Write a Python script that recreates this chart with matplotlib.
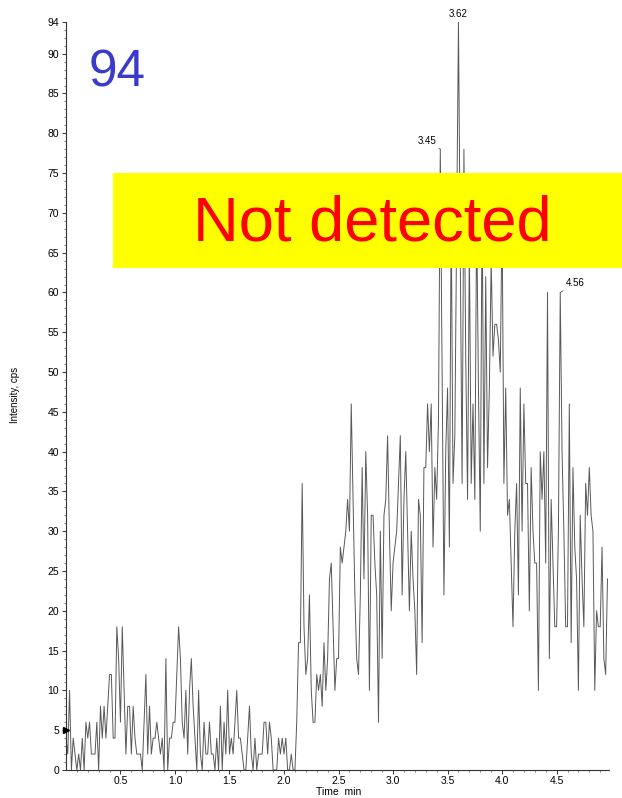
import numpy as np
import matplotlib
matplotlib.use("Agg")
import matplotlib.pyplot as plt
from matplotlib.patches import Rectangle

plt.rcParams['font.family'] = ['Liberation Sans', 'DejaVu Sans']

# sampling step (min) of the chromatogram trace
dt = 1.0 / 60.0

# intensity (cps), 0.5-min blocks
seg0 = [4,2,10,0,4,2,0,2,0,4,0,6,4,6,2,2,2,6,0,8,4,8,4,8,12,12,4,4,18,14]
seg1 = [6,18,10,2,8,8,2,8,4,2,2,2,0,6,12,2,8,2,4,4,6,4,2,4,0,14,0,4,4,6]
seg2 = [6,12,18,14,6,4,10,2,10,14,8,4,0,10,2,0,6,2,2,6,2,2,0,4,0,8,0,6,2,10]
seg3 = [2,4,2,6,10,4,4,2,0,0,4,8,2,0,4,0,2,2,2,6,6,2,6,4,0,0,0,4,2,4]
seg4 = [2,4,0,0,2,0,0,6,16,16,36,18,12,14,22,10,6,6,12,10,12,8,16,10,14,24,26,18,10,14]
seg5 = [14,28,26,28,30,34,30,46,34,22,14,12,22,38,24,40,32,10,32,32,26,22,6,30,14,32,34,42,30,20]
seg6 = [26,28,30,36,42,22,34,40,30,20,30,24,20,12,34,32,16,38,38,46,40,46,28,38,34,44,78,50,22,40]
seg7 = [48,28,70,36,42,68,94,64,36,78,52,34,66,36,46,34,70,48,30,72,36,62,38,48,64,52,56,56,54,50]
seg8 = [70,36,48,32,34,26,18,30,36,22,48,30,46,36,36,20,38,30,26,26,10,40,34,40,26,60,14,34,26,18]
seg9 = [18,30,60,40,30,18,18,46,16,38,28,24,10,32,24,18,36,32,38,32,30,10,20,18,18,28,14,12,24]

intensity = np.array(seg0 + seg1 + seg2 + seg3 + seg4 + seg5 + seg6 + seg7 + seg8 + seg9, dtype=float)
time = np.arange(len(intensity)) * dt

x_ticks = [0.5, 1.0, 1.5, 2.0, 2.5, 3.0, 3.5, 4.0, 4.5]
x_tick_labels = ["0.5", "1.0", "1.5", "2.0", "2.5", "3.0", "3.5", "4.0", "4.5"]
y_ticks = [0, 5, 10, 15, 20, 25, 30, 35, 40, 45, 50, 55, 60, 65, 70, 75, 80, 85, 90, 94]

peak_labels = ["3.45", "3.62", "4.56"]
peak_times = [3.433, 3.600, 4.533]

fig = plt.figure(figsize=(6.22, 7.98), dpi=100)
ax = fig.add_axes([0.106, 0.0351, 0.873, 0.9375])

ax.plot(time, intensity, color="#585858", lw=0.7, zorder=2)

ax.set_xlim(0, 4.98)
ax.set_ylim(0, 94)
ax.set_xticks(x_ticks)
ax.set_xticklabels(x_tick_labels)
ax.set_xticks(np.arange(0.1, 4.95, 0.1), minor=True)
ax.set_yticks(y_ticks)
ax.set_yticklabels([str(v) for v in y_ticks])
ax.set_yticks(np.arange(0, 94, 1), minor=True)

for s in ["top", "right"]:
    ax.spines[s].set_visible(False)
for s in ["left", "bottom"]:
    ax.spines[s].set_color("#333333")
    ax.spines[s].set_linewidth(0.8)

ax.tick_params(axis="both", which="major", direction="out", length=3, width=0.7,
               colors="#333333", labelcolor="black", labelsize=7.5, pad=2)
ax.tick_params(axis="both", which="minor", direction="out", length=1.5, width=0.5,
               colors="#555555")
ax.tick_params(axis="x", which="major", pad=1.5)

# marker on y axis at 5
ax.plot([0], [5], marker=">", color="black", markersize=4, clip_on=False, zorder=5)

# peak annotations
offsets = [(-3, 2), (0, 2), (4, 3)]
has = ["right", "center", "left"]
leaders = [True, False, True]
for lab, pt, off, ha, lead in zip(peak_labels, peak_times, offsets, has, leaders):
    idx = int(np.argmin(np.abs(time - pt)))
    props = dict(arrowstyle="-", lw=0.5, color="#333333", shrinkA=0, shrinkB=0) if lead else None
    ax.annotate(lab, xy=(time[idx], intensity[idx]), xytext=off,
                textcoords="offset points", ha=ha, va="bottom", fontsize=7,
                annotation_clip=False, arrowprops=props)

fig.text(15 / 622, 0.505, "Intensity, cps", rotation=90, ha="center", va="center", fontsize=7)
fig.text(316 / 622, 1 - 792 / 798, "Time  min", ha="left", va="center", fontsize=7.5)

fig.text(117 / 622, 1 - 73 / 798, "94", color="#3a3acc", fontsize=37, ha="center", va="center")

fig.add_artist(Rectangle((113 / 622, 1 - 268 / 798), 1 - 113 / 622, 95 / 798,
                         transform=fig.transFigure, facecolor="#ffff00",
                         edgecolor="none", zorder=5))
fig.text(372 / 622, 1 - 224 / 798, "Not detected", color="#ff0000", fontsize=45.5,
         ha="center", va="center", zorder=6)

fig.savefig("out.png", dpi=100, facecolor="white")
